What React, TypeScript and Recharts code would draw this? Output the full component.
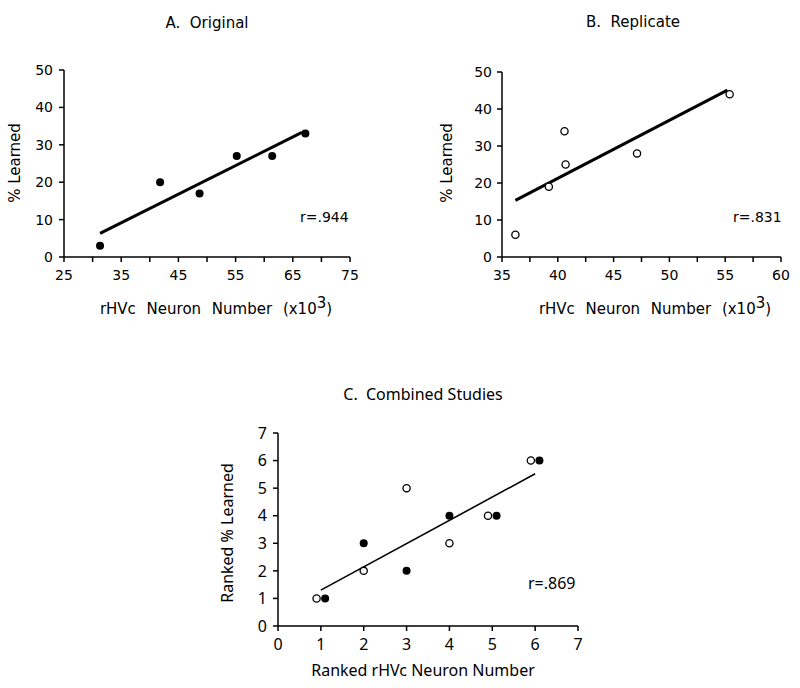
import React from "react";
import {
  ScatterChart,
  Scatter,
  XAxis,
  YAxis,
  ReferenceLine,
} from "recharts";

// A. Original (x = rHVc neuron number, x10^3; y = % learned)
const origNeurons = [31.3, 41.8, 48.7, 55.2, 61.4, 67.2];
const origLearned = [3, 20, 17, 27, 27, 33];
const origFit = [
  { x: 31.3, y: 6.3 },
  { x: 66.6, y: 33.3 },
];
const origXTicks = [25, 30, 35, 40, 45, 50, 55, 60, 65, 70, 75];
const origYTicks = [0, 10, 20, 30, 40, 50];

// B. Replicate
const repNeurons = [36.2, 39.2, 40.6, 40.7, 47.1, 55.4];
const repLearned = [6, 19, 34, 25, 28, 44];
const repFit = [
  { x: 36.2, y: 15.3 },
  { x: 55.2, y: 45.1 },
];
const repXTicks = [35, 37.5, 40, 42.5, 45, 47.5, 50, 52.5, 55, 57.5, 60];
const repYTicks = [0, 10, 20, 30, 40, 50];

// C. Combined (ranks)
const combOpenRank = [0.9, 2, 3, 4, 4.9, 5.9];
const combOpenLearned = [1, 2, 5, 3, 4, 6];
const combFilledRank = [1.1, 2, 3, 4, 5.1, 6.1];
const combFilledLearned = [1, 3, 2, 4, 4, 6];
const combFit = [
  { x: 1.0, y: 1.3 },
  { x: 6.0, y: 5.52 },
];
const combTicks = [0, 1, 2, 3, 4, 5, 6, 7];

const zip = (xs: number[], ys: number[]) => xs.map((x, i) => ({ x, y: ys[i] }));

const GENEVA = "'DejaVu Sans', Verdana, sans-serif";
const AVENIR = "'Noto Sans', 'Open Sans', sans-serif";

const axisStyle = { stroke: "#000", strokeWidth: 1.5 };

const Filled = (p: any) => <circle cx={p.cx} cy={p.cy} r={4} fill="#000" />;
const Open = (p: any) => (
  <circle cx={p.cx} cy={p.cy} r={3.6} fill="#fff" stroke="#000" strokeWidth={1.3} />
);

function Txt({
  x,
  y,
  size,
  family,
  rotate,
  left,
  spacing,
  children,
}: {
  x: number;
  y: number;
  size: number;
  family: string;
  rotate?: boolean;
  left?: boolean;
  spacing?: number;
  children: React.ReactNode;
}) {
  return (
    <div
      style={{
        position: "absolute",
        left: x,
        top: y,
        fontSize: size,
        fontFamily: family,
        color: "#000",
        whiteSpace: "pre",
        lineHeight: 1,
        wordSpacing: spacing ?? 0,
        transform: left
          ? "translate(0,-50%)"
          : `translate(-50%,-50%)${rotate ? " rotate(-90deg)" : ""}`,
      }}
    >
      {children}
    </div>
  );
}

export default function App() {
  return (
    <div
      style={{
        position: "absolute",
        left: 0,
        top: 0,
        width: 800,
        height: 688,
        background: "#fff",
        fontFamily: GENEVA,
      }}
    >
      {/* A */}
      <div style={{ position: "absolute", left: 0, top: 0 }}>
        <ScatterChart width={400} height={300} margin={{ top: 70, right: 50, bottom: 13, left: 20 }}>
          <XAxis
            type="number"
            dataKey="x"
            domain={[25, 75]}
            ticks={origXTicks}
            interval={0}
            height={30}
            tickSize={5}
            tickMargin={8}
            axisLine={axisStyle}
            tickLine={axisStyle}
            tick={{ fill: "#000", fontSize: 14, fontFamily: GENEVA }}
            tickFormatter={(v: number) => (v % 10 === 5 ? String(v) : "")}
          />
          <YAxis
            type="number"
            dataKey="y"
            domain={[0, 50]}
            ticks={origYTicks}
            interval={0}
            width={44}
            tickSize={5}
            tickMargin={6}
            axisLine={axisStyle}
            tickLine={axisStyle}
            tick={{ fill: "#000", fontSize: 14, fontFamily: GENEVA }}
          />
          <ReferenceLine segment={origFit} stroke="#000" strokeWidth={3} ifOverflow="visible" />
          <Scatter data={zip(origNeurons, origLearned)} shape={Filled} isAnimationActive={false} />
        </ScatterChart>
      </div>
      <Txt x={207} y={23} size={15} family={GENEVA}>
        {"A.  Original"}
      </Txt>
      <Txt x={15} y={163} size={15} family={GENEVA} rotate>
        % Learned
      </Txt>
      <Txt x={300} y={217} size={14} family={GENEVA} left>
        r=.944
      </Txt>
      <Txt x={216} y={306} size={15} family={GENEVA} spacing={6}>
        {"rHVc Neuron Number (x10"}
        <sup style={{ fontSize: 15 }}>3</sup>)
      </Txt>

      {/* B */}
      <div style={{ position: "absolute", left: 400, top: 0 }}>
        <ScatterChart width={400} height={300} margin={{ top: 72, right: 19, bottom: 13, left: 58 }}>
          <XAxis
            type="number"
            dataKey="x"
            domain={[35, 60]}
            ticks={repXTicks}
            interval={0}
            height={30}
            tickSize={5}
            tickMargin={8}
            axisLine={axisStyle}
            tickLine={axisStyle}
            tick={{ fill: "#000", fontSize: 14, fontFamily: GENEVA }}
            tickFormatter={(v: number) => (v % 5 === 0 ? String(v) : "")}
          />
          <YAxis
            type="number"
            dataKey="y"
            domain={[0, 50]}
            ticks={repYTicks}
            interval={0}
            width={44}
            tickSize={5}
            tickMargin={5}
            axisLine={axisStyle}
            tickLine={axisStyle}
            tick={{ fill: "#000", fontSize: 14, fontFamily: GENEVA }}
          />
          <ReferenceLine segment={repFit} stroke="#000" strokeWidth={3} ifOverflow="visible" />
          <Scatter data={zip(repNeurons, repLearned)} shape={Open} isAnimationActive={false} />
        </ScatterChart>
      </div>
      <Txt x={633} y={22} size={15} family={GENEVA}>
        {"B.  Replicate"}
      </Txt>
      <Txt x={447} y={163} size={15} family={GENEVA} rotate>
        % Learned
      </Txt>
      <Txt x={733} y={217} size={14} family={GENEVA} left>
        r=.831
      </Txt>
      <Txt x={655} y={306} size={15} family={GENEVA} spacing={6}>
        {"rHVc Neuron Number (x10"}
        <sup style={{ fontSize: 15 }}>3</sup>)
      </Txt>

      {/* C */}
      <div style={{ position: "absolute", left: 180, top: 370 }}>
        <ScatterChart width={420} height={318} margin={{ top: 63, right: 22, bottom: 32, left: 58 }}>
          <XAxis
            type="number"
            dataKey="x"
            domain={[0, 7]}
            ticks={combTicks}
            interval={0}
            height={30}
            tickSize={5}
            tickMargin={8}
            axisLine={axisStyle}
            tickLine={axisStyle}
            tick={{ fill: "#000", fontSize: 16, fontFamily: AVENIR }}
          />
          <YAxis
            type="number"
            dataKey="y"
            domain={[0, 7]}
            ticks={combTicks}
            interval={0}
            width={40}
            tickSize={5}
            tickMargin={6}
            axisLine={axisStyle}
            tickLine={axisStyle}
            tick={{ fill: "#000", fontSize: 16, fontFamily: AVENIR }}
          />
          <ReferenceLine segment={combFit} stroke="#000" strokeWidth={1.6} ifOverflow="visible" />
          <Scatter data={zip(combOpenRank, combOpenLearned)} shape={Open} isAnimationActive={false} />
          <Scatter data={zip(combFilledRank, combFilledLearned)} shape={Filled} isAnimationActive={false} />
        </ScatterChart>
      </div>
      <Txt x={423} y={394} size={16} family={AVENIR}>
        C.  Combined Studies
      </Txt>
      <Txt x={227} y={533} size={16} family={AVENIR} rotate>
        Ranked % Learned
      </Txt>
      <Txt x={528} y={583} size={16} family={AVENIR} left>
        r=.869
      </Txt>
      <Txt x={423} y={670} size={16} family={AVENIR}>
        Ranked rHVc Neuron Number
      </Txt>
    </div>
  );
}
